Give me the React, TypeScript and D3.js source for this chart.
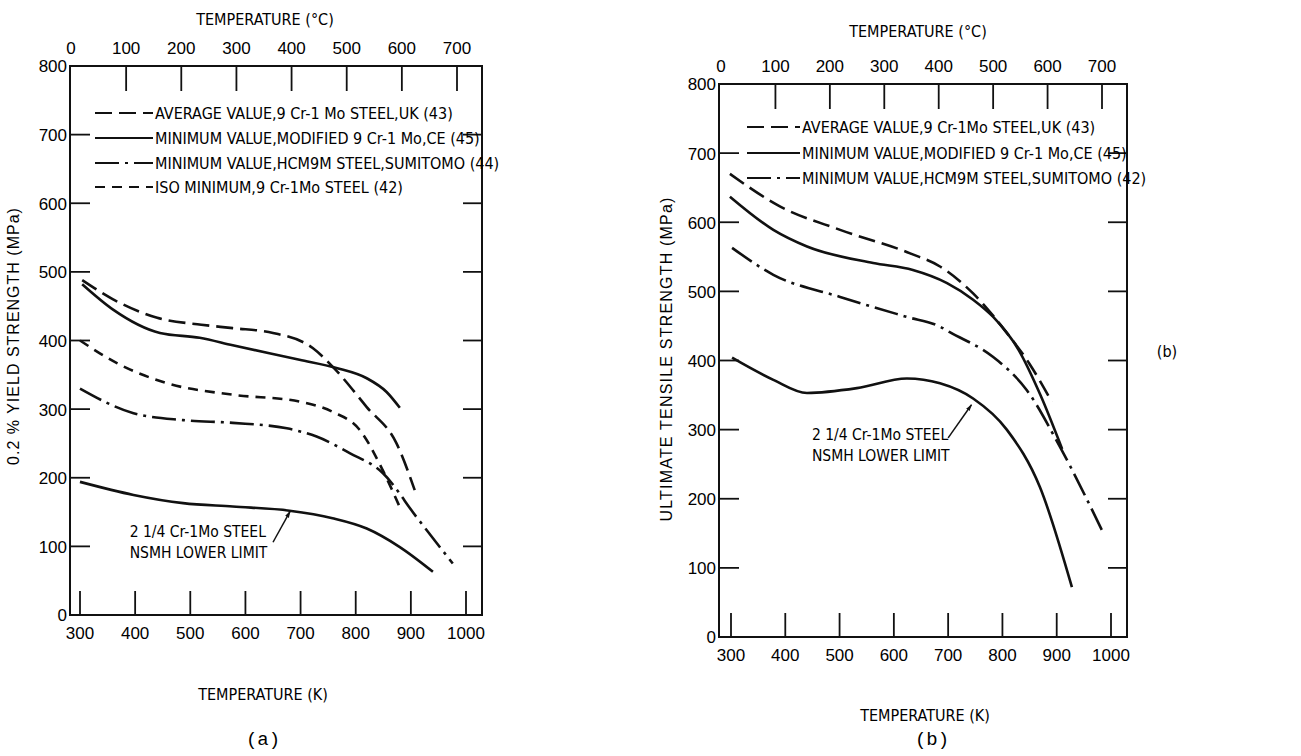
import React from 'react';
import * as d3 from 'd3';

// axis ticks
const kelvinTicks = [300, 400, 500, 600, 700, 800, 900, 1000];
const celsiusTicks = [0, 100, 200, 300, 400, 500, 600, 700];
const mpaTicks = [0, 100, 200, 300, 400, 500, 600, 700, 800];

// (a) 0.2 % yield strength (K, MPa)
const yAvgK = [304, 360, 440, 520, 577, 650, 722, 758, 820, 874, 907];
const yAvgMPa = [488, 460, 433, 423, 418, 411, 389, 362, 303, 250, 182];
const yMinK = [304, 360, 445, 517, 577, 698, 765, 820, 856, 880];
const yMinMPa = [482, 445, 411, 404, 393, 372, 360, 345, 325, 302];
const yHcmK = [300, 397, 487, 577, 675, 729, 789, 849, 910, 976];
const yHcmMPa = [330, 294, 284, 280, 272, 260, 236, 207, 143, 75];
const yIsoK = [300, 367, 457, 577, 698, 758, 807, 849, 880];
const yIsoMPa = [400, 367, 338, 321, 311, 296, 270, 211, 157];
const yNsmhK = [300, 397, 487, 577, 680, 758, 820, 880, 940];
const yNsmhMPa = [194, 175, 163, 158, 152, 141, 126, 99, 63];

// (b) ultimate tensile strength (K, MPa)
const uAvgK = [298, 390, 501, 630, 685, 746, 808, 850, 891];
const uAvgMPa = [670, 623, 589, 555, 536, 497, 440, 395, 340];
const uMinK = [298, 378, 440, 562, 635, 698, 746, 783, 830, 870, 910];
const uMinMPa = [637, 589, 565, 541, 531, 512, 488, 463, 415, 350, 272];
const uHcmK = [302, 378, 501, 624, 685, 703, 783, 845, 906, 983];
const uHcmMPa = [563, 524, 492, 463, 449, 441, 405, 357, 275, 155];
const uNsmhK = [302, 378, 440, 532, 624, 685, 746, 808, 869, 928];
const uNsmhMPa = [404, 372, 353, 360, 374, 367, 345, 300, 217, 72];

const legendA = [
  'AVERAGE VALUE,9 Cr-1 Mo STEEL,UK (43)',
  'MINIMUM VALUE,MODIFIED 9 Cr-1 Mo,CE (45)',
  'MINIMUM VALUE,HCM9M STEEL,SUMITOMO (44)',
  'ISO MINIMUM,9 Cr-1Mo STEEL (42)',
];
const legendB = [
  'AVERAGE VALUE,9 Cr-1Mo STEEL,UK (43)',
  'MINIMUM VALUE,MODIFIED 9 Cr-1 Mo,CE (45)',
  'MINIMUM VALUE,HCM9M STEEL,SUMITOMO (42)',
];

const DASH = { avg: '17,7', min: '', hcm: '24,6,3,6', iso: '10,7' };
const NARROW = "'Liberation Sans Narrow', 'DejaVu Sans Condensed', 'Arial Narrow', sans-serif";
const SANS = "'Liberation Sans', Arial, sans-serif";

const zip = (ks, vs) => ks.map((k, i) => ({ k, v: vs[i] }));

const Panel = ({ L, curves, legend, note, yTitle }) => {
  const xK = d3.scaleLinear().domain([300, 1000]).range([L.k0, L.k1]);
  const xC = d3.scaleLinear().domain([0, 700]).range([L.c0, L.c1]);
  const y = d3.scaleLinear().domain([0, 800]).range([L.bottom, L.top]);
  const line = d3.line().x(d => xK(d.k)).y(d => y(d.v)).curve(d3.curveMonotoneX);
  const ink = '#111';

  return (
    <g>
      <rect x={L.left} y={L.top} width={L.right - L.left} height={L.bottom - L.top}
        fill="none" stroke={ink} strokeWidth={2} />
      {/* top celsius axis */}
      {celsiusTicks.map(c => (
        <g key={'c' + c}>
          {c > 0 && <line x1={xC(c)} x2={xC(c)} y1={L.top} y2={L.top + 25} stroke={ink} strokeWidth={1.8} />}
          <text x={xC(c)} y={L.top - 16} textAnchor="middle" dominantBaseline="middle"
            fontFamily={SANS} fontSize={17}>{c}</text>
        </g>
      ))}
      {/* bottom kelvin axis */}
      {kelvinTicks.map(k => (
        <g key={'k' + k}>
          <line x1={xK(k)} x2={xK(k)} y1={L.bottom} y2={L.bottom - 24} stroke={ink} strokeWidth={1.8} />
          <text x={xK(k)} y={L.bottom + 20} textAnchor="middle" dominantBaseline="middle"
            fontFamily={SANS} fontSize={17}>{k}</text>
        </g>
      ))}
      {/* MPa axes, both sides */}
      {mpaTicks.map(m => (
        <g key={'m' + m}>
          {m > 0 && m < 800 && (
            <>
              <line x1={L.left} x2={L.left + 20} y1={y(m)} y2={y(m)} stroke={ink} strokeWidth={1.8} />
              <line x1={L.right} x2={L.right - 19} y1={y(m)} y2={y(m)} stroke={ink} strokeWidth={1.8} />
            </>
          )}
          <text x={L.left - 3} y={y(m) + 2} textAnchor="end" dominantBaseline="middle"
            fontFamily={SANS} fontSize={17}>{m}</text>
        </g>
      ))}

      {curves.map((c, i) => (
        <path key={i} d={line(c.pts)} fill="none" stroke={ink} strokeWidth={2.6}
          strokeDasharray={c.dash || null} />
      ))}

      {legend.map((t, i) => (
        <g key={'l' + i}>
          <line x1={L.legX0} x2={L.legX1} y1={L.legY[i]} y2={L.legY[i]} stroke={ink} strokeWidth={2.2}
            strokeDasharray={curves[i].dash || null} />
          <text x={L.legX1 + 2} y={L.legY[i] + 1} dominantBaseline="middle"
            fontFamily={NARROW} fontSize={16}>{t}</text>
        </g>
      ))}

      {/* note on the 2 1/4 Cr-1Mo curve */}
      <text x={xK(note.k)} y={y(note.v)} fontFamily={NARROW} fontSize={15.5}>
        <tspan x={xK(note.k)}>2 1/4 Cr-1Mo STEEL</tspan>
        <tspan x={xK(note.k)} dy={21}>NSMH LOWER LIMIT</tspan>
      </text>
      <line x1={xK(note.ak0)} y1={y(note.av0)} x2={xK(note.ak1)} y2={y(note.av1)}
        stroke={ink} strokeWidth={1.5} markerEnd="url(#arrow)" />

      <text x={L.titleX} y={L.topTitleY} textAnchor="middle" dominantBaseline="middle"
        fontFamily={NARROW} fontSize={16}>TEMPERATURE (°C)</text>
      <text x={L.titleX2} y={L.bottomTitleY} textAnchor="middle" dominantBaseline="middle"
        fontFamily={NARROW} fontSize={16}>TEMPERATURE (K)</text>
      <text transform={`translate(${L.yTitleX},${L.yTitleY}) rotate(-90)`} textAnchor="middle"
        dominantBaseline="middle" fontFamily={SANS} fontSize={16} letterSpacing={L.yTitleLs}>{yTitle}</text>
      <text x={L.captionX} y={740} textAnchor="middle" dominantBaseline="middle"
        fontFamily="'Liberation Mono', 'DejaVu Sans Mono', monospace" fontSize={19}>{L.caption}</text>
    </g>
  );
};

const layoutA = {
  left: 70, right: 482, top: 66, bottom: 615, k0: 80, k1: 466, c0: 71, c1: 457,
  legX0: 95, legX1: 153, legY: [113, 138, 163, 187],
  titleX: 265, titleX2: 263, topTitleY: 20, bottomTitleY: 695,
  yTitleX: 15, yTitleY: 336, yTitleLs: 1, captionX: 263, caption: '(a)',
};
const layoutB = {
  left: 719, right: 1127, top: 84, bottom: 637, k0: 731, k1: 1111, c0: 721, c1: 1102,
  legX0: 747, legX1: 800, legY: [127, 153, 178],
  titleX: 918, titleX2: 925, topTitleY: 32, bottomTitleY: 716,
  yTitleX: 668, yTitleY: 359, yTitleLs: 1.2, captionX: 932, caption: '(b)',
};

const App = () => {
  const curvesA = [
    { pts: zip(yAvgK, yAvgMPa), dash: DASH.avg },
    { pts: zip(yMinK, yMinMPa), dash: DASH.min },
    { pts: zip(yHcmK, yHcmMPa), dash: DASH.hcm },
    { pts: zip(yIsoK, yIsoMPa), dash: DASH.iso },
    { pts: zip(yNsmhK, yNsmhMPa), dash: '' },
  ];
  const curvesB = [
    { pts: zip(uAvgK, uAvgMPa), dash: DASH.avg },
    { pts: zip(uMinK, uMinMPa), dash: DASH.min },
    { pts: zip(uHcmK, uHcmMPa), dash: DASH.hcm },
    { pts: zip(uNsmhK, uNsmhMPa), dash: '' },
  ];
  const noteA = { k: 390, v: 114, ak0: 650, av0: 106, ak1: 681, av1: 151 };
  const noteB = { k: 449, v: 285, ak0: 700, av0: 288, ak1: 743, av1: 336 };

  return (
    <svg width={1301} height={756} style={{ position: 'absolute', left: 0, top: 0, background: '#fff' }}>
      <defs>
        <marker id="arrow" viewBox="0 0 10 10" refX={9} refY={5} markerWidth={7} markerHeight={7}
          orient="auto" markerUnits="userSpaceOnUse">
          <path d="M0,2 L10,5 L0,8 z" fill="#111" />
        </marker>
      </defs>
      <Panel L={layoutA} curves={curvesA} legend={legendA} note={noteA}
        yTitle="0.2 % YIELD STRENGTH (MPa)" />
      <Panel L={layoutB} curves={curvesB} legend={legendB} note={noteB}
        yTitle="ULTIMATE TENSILE STRENGTH (MPa)" />
      <text x={1167} y={352} textAnchor="middle" dominantBaseline="middle" fontFamily={NARROW} fontSize={16}>(b)</text>
    </svg>
  );
};

export default App;
